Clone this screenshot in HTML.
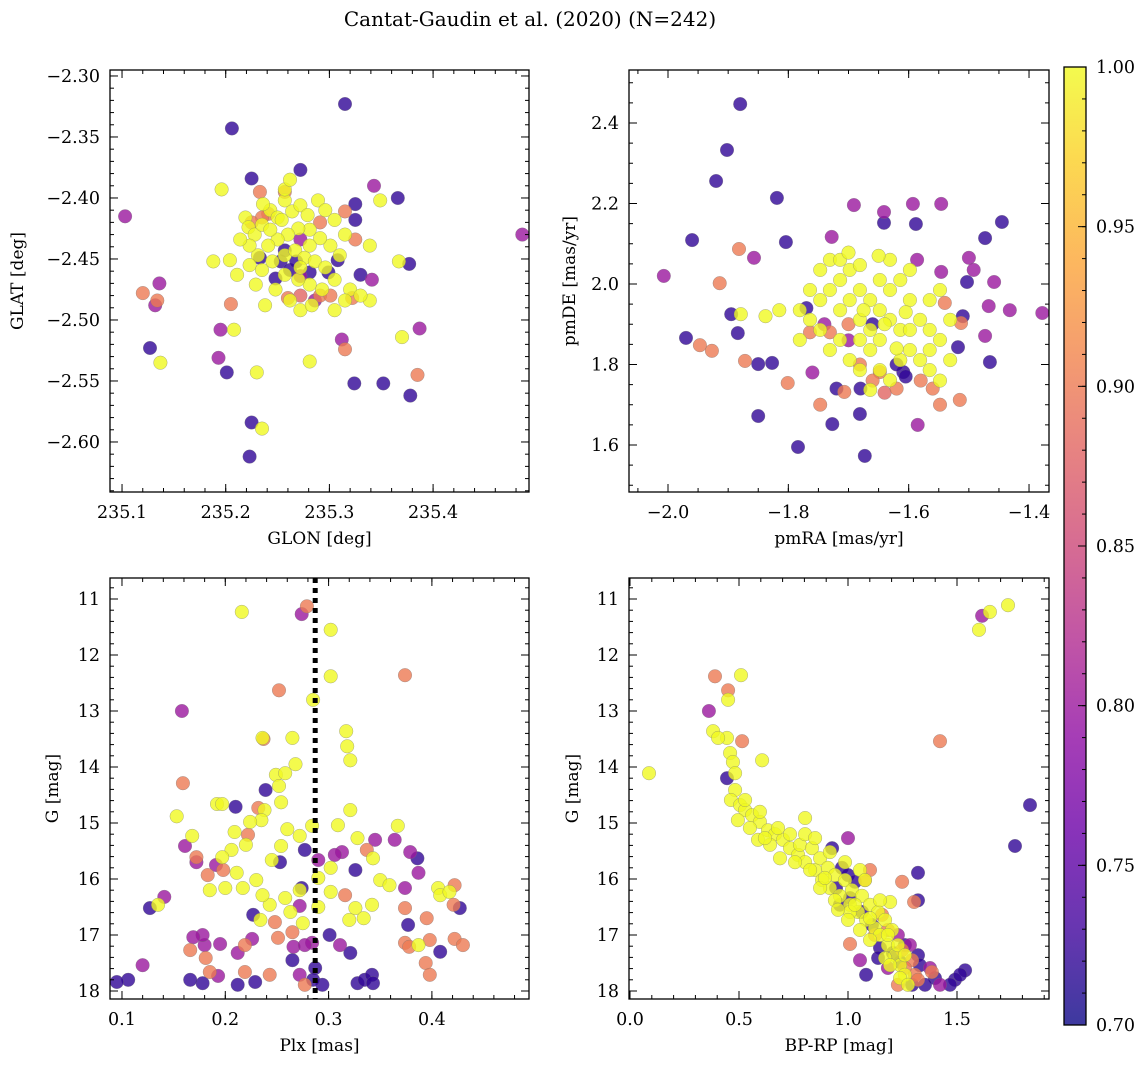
<!DOCTYPE html>
<html><head><meta charset="utf-8"><style>
html,body{margin:0;padding:0;background:#fff}
svg{display:block;font-family:"DejaVu Serif","Liberation Serif",serif}
</style></head><body>
<svg id="fig" width="1148" height="1067" viewBox="0 0 1148 1067" xmlns="http://www.w3.org/2000/svg">
<defs>
<linearGradient id="cbgrad" x1="0" y1="1" x2="0" y2="0">
<stop offset="0" stop-color="#0d0887"/><stop offset="0.1" stop-color="#41049d"/><stop offset="0.2" stop-color="#6a00a8"/><stop offset="0.3" stop-color="#8f0da4"/><stop offset="0.4" stop-color="#b12a90"/><stop offset="0.5" stop-color="#cc4778"/><stop offset="0.6" stop-color="#e16462"/><stop offset="0.7" stop-color="#f2844b"/><stop offset="0.8" stop-color="#fca636"/><stop offset="0.9" stop-color="#fcce25"/><stop offset="1" stop-color="#f0f921"/>
</linearGradient>
</defs>
<text x="530" y="26" font-size="20" text-anchor="middle">Cantat-Gaudin et al. (2020) (N=242)</text>
</svg>
<script>
// ---- Data (data units: [x, y, membership probability]) ----
const skyPoints = [
[235.315,-2.323,.72],[235.206,-2.343,.72],[235.272,-2.377,.72],[235.225,-2.384,.72],[235.343,-2.390,.8],[235.366,-2.400,.72],[235.103,-2.415,.8],[235.486,-2.430,.8],[235.120,-2.478,.9],[235.134,-2.484,.9],[235.132,-2.488,.8],[235.136,-2.470,.8],[235.127,-2.523,.72],[235.137,-2.535,1],[235.195,-2.508,.8],[235.193,-2.531,.8],[235.201,-2.543,.72],[235.225,-2.584,.72],[235.223,-2.612,.72],[235.235,-2.589,1],[235.205,-2.487,.9],[235.208,-2.508,1],[235.230,-2.543,1],[235.281,-2.534,1],[235.315,-2.524,.9],[235.312,-2.516,.8],[235.324,-2.552,.72],[235.352,-2.552,.72],[235.378,-2.562,.72],[235.385,-2.545,.9],[235.377,-2.454,.72],[235.387,-2.507,.8],[235.370,-2.514,1],[235.196,-2.393,1],[235.188,-2.452,1],[235.211,-2.463,1],[235.367,-2.452,1],[235.349,-2.402,1],[235.339,-2.439,1],[235.339,-2.484,1],[235.341,-2.467,.8],[235.330,-2.463,.72],[235.325,-2.405,.72],[235.325,-2.418,.72],
[235.219,-2.416,1],[235.222,-2.424,1],[235.228,-2.430,1],[235.235,-2.422,1],[235.243,-2.410,1],[235.250,-2.416,1],[235.257,-2.402,1],[235.264,-2.411,1],[235.272,-2.406,1],[235.279,-2.414,1],[235.289,-2.402,1],[235.296,-2.410,1],[235.305,-2.418,1],[235.315,-2.430,1],[235.310,-2.447,1],[235.301,-2.439,1],[235.291,-2.433,1],[235.281,-2.426,1],[235.270,-2.425,1],[235.260,-2.430,1],[235.250,-2.434,1],[235.241,-2.439,1],[235.231,-2.447,1],[235.223,-2.455,1],[235.235,-2.459,1],[235.245,-2.452,1],[235.257,-2.447,1],[235.267,-2.443,1],[235.276,-2.449,1],[235.286,-2.452,1],[235.296,-2.457,1],[235.305,-2.467,1],[235.293,-2.475,1],[235.281,-2.471,1],[235.270,-2.467,1],[235.257,-2.463,1],[235.248,-2.475,1],[235.262,-2.484,1],[235.272,-2.492,1],[235.283,-2.488,1],[235.238,-2.488,1],[235.229,-2.471,1],[235.257,-2.393,1],[235.262,-2.385,1],[235.236,-2.405,1],[235.320,-2.475,1],[235.330,-2.480,1],[235.315,-2.484,1],[235.305,-2.492,1],[235.223,-2.439,1],[235.214,-2.434,1],[235.204,-2.451,1],[235.272,-2.457,1],[235.281,-2.439,1],[235.254,-2.418,1],[235.243,-2.426,1],
[235.260,-2.482,.9],[235.272,-2.480,.88],[235.291,-2.480,.9],[235.301,-2.480,.9],[235.322,-2.482,.9],[235.241,-2.413,.9],[235.235,-2.416,.9],[235.257,-2.395,.9],[235.272,-2.464,.8],[235.286,-2.484,.8],[235.281,-2.461,.72],[235.248,-2.466,.72],[235.253,-2.452,.72],[235.262,-2.459,.72],[235.257,-2.443,.72],[235.268,-2.452,.72],[235.299,-2.461,.72],[235.308,-2.451,.72],[235.233,-2.449,.72],[235.272,-2.434,.8],[235.291,-2.420,.9],[235.325,-2.434,.9],[235.315,-2.411,.9],[235.233,-2.395,.9],[235.225,-2.420,.9]
];
const pmPoints = [
[-1.880,2.447,.72],[-1.902,2.333,.72],[-1.920,2.256,.72],[-1.960,2.109,.72],[-2.007,2.020,.8],[-1.819,2.214,.72],[-1.804,2.104,.72],[-1.857,2.065,.8],[-1.882,2.087,.9],[-1.914,2.002,.9],[-1.970,1.866,.72],[-1.947,1.848,.9],[-1.927,1.834,.9],[-1.872,1.809,.9],[-1.895,1.925,.72],[-1.884,1.878,.72],[-1.879,1.925,1],[-1.850,1.801,.72],[-1.827,1.804,.72],[-1.850,1.672,.72],[-1.784,1.595,.72],[-1.727,1.652,.72],[-1.673,1.573,.72],[-1.681,1.677,.72],[-1.691,2.196,.8],[-1.728,2.117,.8],[-1.641,2.152,.72],[-1.641,2.179,.8],[-1.593,2.199,.8],[-1.588,2.149,.72],[-1.546,2.199,.8],[-1.473,2.114,.72],[-1.445,2.154,.72],[-1.586,2.060,.8],[-1.546,2.030,.8],[-1.500,2.065,.8],[-1.492,2.035,.8],[-1.503,2.005,.72],[-1.458,2.005,.8],[-1.467,1.945,.8],[-1.510,1.920,.72],[-1.513,1.903,.9],[-1.540,1.953,.9],[-1.465,1.806,.72],[-1.432,1.935,.8],[-1.378,1.928,.8],[-1.473,1.871,.8],[-1.515,1.712,.9],[-1.585,1.650,.8],[-1.548,1.700,.9],[-1.518,1.843,.72],[-1.609,1.781,.72],[-1.648,1.781,.9],[-1.707,1.732,.9],[-1.747,1.700,.9],[-1.801,1.754,.9],
[-1.781,1.935,1],[-1.764,1.985,1],[-1.747,2.035,1],[-1.731,2.060,1],[-1.714,2.010,1],[-1.698,1.960,1],[-1.681,1.911,1],[-1.664,1.886,1],[-1.648,1.935,1],[-1.631,1.985,1],[-1.614,2.010,1],[-1.598,1.960,1],[-1.581,1.911,1],[-1.565,1.886,1],[-1.548,1.861,1],[-1.531,1.911,1],[-1.747,1.886,1],[-1.731,1.836,1],[-1.714,1.861,1],[-1.698,1.811,1],[-1.681,1.786,1],[-1.664,1.836,1],[-1.648,1.861,1],[-1.631,1.911,1],[-1.614,1.886,1],[-1.598,1.836,1],[-1.581,1.811,1],[-1.565,1.786,1],[-1.631,1.761,1],[-1.664,1.737,1],[-1.714,1.935,1],[-1.698,2.035,1],[-1.681,1.985,1],[-1.664,1.960,1],[-1.648,2.010,1],[-1.631,2.060,1],[-1.598,2.035,1],[-1.565,1.960,1],[-1.548,1.985,1],[-1.614,1.811,1],[-1.648,1.786,1],[-1.681,1.861,1],[-1.764,1.911,1],[-1.781,1.861,1],[-1.815,1.935,1],[-1.838,1.920,1],[-1.747,1.960,1],[-1.731,1.985,1],[-1.714,2.060,1],[-1.681,2.047,1],[-1.598,1.886,1],[-1.565,1.836,1],[-1.531,1.811,1],[-1.548,1.760,1],[-1.700,2.078,1],[-1.650,2.070,1],[-1.620,1.840,1],[-1.640,1.900,1],[-1.605,1.930,1],[-1.675,1.935,1],
[-1.764,1.880,.9],[-1.731,1.880,.9],[-1.700,1.900,.9],[-1.681,1.800,.9],[-1.660,1.760,.9],[-1.640,1.730,.88],[-1.620,1.740,.9],[-1.580,1.760,.9],[-1.560,1.740,.9],[-1.680,1.740,.72],[-1.720,1.740,.72],[-1.605,1.770,.72],[-1.740,1.900,.8],[-1.700,1.860,.8],[-1.660,1.900,.72],[-1.620,1.800,.72],[-1.770,1.940,.72],[-1.760,1.780,.8]
];
const plxPoints = [
[.216,11.23,1],[.279,11.13,.9],[.274,11.27,.8],[.302,11.55,1],[.302,12.38,1],[.252,12.63,.9],[.237,13.50,.9],[.236,13.48,1],[.265,13.48,1],[.317,13.36,1],[.318,13.63,1],[.158,13.00,.8],[.285,12.80,1],[.321,13.88,1],[.374,12.36,.9],[.159,14.29,.9],[.161,15.41,.8],[.192,14.66,1],[.197,14.66,1],[.210,14.71,.72],[.232,14.73,.9],[.249,14.14,1],[.258,14.11,1],[.268,13.95,1],[.252,14.34,1],[.254,14.63,1],[.239,14.41,.72],[.238,14.77,1],[.235,14.95,1],[.224,14.98,1],[.222,15.21,.9],[.220,15.39,1],[.209,15.16,1],[.206,15.48,1],[.197,15.61,1],[.198,15.84,.9],[.191,15.75,.8],[.183,15.93,.9],[.172,15.70,.8],[.185,16.20,1],[.200,16.16,1],[.217,16.16,1],[.230,16.02,1],[.245,15.66,1],[.254,15.41,1],[.260,15.11,1],[.272,15.23,1],[.284,15.05,1],[.309,15.04,1],[.321,14.77,1],[.328,15.27,1],[.337,15.48,.9],[.343,15.63,1],[.367,15.05,1],[.350,16.02,1],[.359,16.11,1],[.387,15.89,.8],[.374,16.16,.8],[.406,16.16,1],[.408,16.29,1],[.417,16.23,1],[.422,16.11,.9],[.313,15.52,.8],[.302,15.80,1],[.290,15.98,1],[.272,16.20,1],[.258,16.34,1],[.243,16.46,1],[.227,16.64,.72],[.234,16.73,1],[.263,16.59,1],[.265,16.95,.9],[.275,16.79,1],[.290,16.50,1],[.302,16.23,1],[.316,16.29,.9],[.326,16.52,1],[.342,16.46,1],[.334,16.70,1],[.320,16.73,1],[.301,17.00,.72],[.374,16.52,.9],[.395,16.70,.9],[.377,16.82,.72],[.427,16.52,.72],[.421,16.46,.9],[.422,17.07,.9],[.398,17.09,.9],[.374,17.14,.9],[.378,17.21,.9],[.387,17.18,1],[.408,17.30,.72],[.394,17.50,.9],[.430,17.18,.9],[.398,17.71,.9],[.321,17.32,.72],[.311,17.18,.8],[.284,17.14,.8],[.266,17.21,.8],[.251,17.05,.9],[.226,17.07,.8],[.219,17.18,.9],[.212,17.32,.8],[.195,17.16,.8],[.180,17.18,.8],[.178,17.00,.8],[.169,17.04,.8],[.166,17.27,.9],[.181,17.41,.9],[.185,17.66,.9],[.193,17.73,.8],[.178,17.86,.72],[.166,17.80,.72],[.120,17.54,.8],[.106,17.80,.72],[.095,17.84,.72],[.127,16.52,.72],[.135,16.46,1],[.141,16.32,.8],[.153,14.88,1],[.168,15.23,1],[.172,15.61,.9],[.211,15.89,1],[.236,16.29,1],[.248,16.77,.9],[.265,17.45,.72],[.272,17.71,.8],[.277,17.89,.9],[.294,17.89,.72],[.328,17.86,.72],[.335,17.80,.72],[.342,17.71,.72],[.343,17.86,.72],[.287,17.59,.72],[.285,17.80,.72],[.243,17.71,.9],[.229,17.84,.72],[.219,17.66,.9],[.212,17.89,.72],[.274,16.16,.72],[.290,15.66,.8],[.306,15.57,.8],[.277,15.48,.72],[.253,15.70,.72],[.326,15.84,.72],[.345,15.30,.8],[.364,15.30,.8],[.379,15.52,.8],[.386,15.63,.72],[.277,17.18,.8],[.272,16.48,.8]
];
const cmdPoints = [
[.087,14.11,1],[.390,12.38,.9],[.450,12.63,.9],[.450,12.80,1],[.509,12.36,1],[.362,13.00,.8],[.381,13.36,1],[.445,13.48,1],[.514,13.54,.9],[.404,13.48,1],[.459,13.75,1],[.472,13.91,1],[.482,14.11,1],[.445,14.20,.72],[.606,13.88,1],[.482,14.41,1],[.463,14.59,1],[.505,14.68,1],[.528,14.77,1],[.560,14.86,1],[.596,14.98,1],[.633,15.13,1],[.665,15.20,1],[.702,15.30,1],[.734,15.45,1],[.771,15.57,1],[.803,15.70,1],[.849,15.84,1],[.881,16.02,1],[.917,16.16,1],[.963,16.30,1],[1.009,16.46,1],[1.046,16.59,1],[1.083,16.73,1],[1.124,16.88,1],[1.147,17.00,1],[1.183,17.18,1],[1.216,17.36,1],[1.239,17.54,1],[1.261,17.71,1],
[.495,14.95,1],[.550,15.09,1],[.587,15.30,1],[.642,15.39,1],[.679,15.09,1],[.734,15.20,1],[.780,15.39,1],[.803,15.20,1],[.835,15.45,1],[.872,15.63,1],[.908,15.80,1],[.940,15.93,1],[.986,16.02,1],[1.018,16.20,1],[1.064,16.30,1],[1.101,16.46,1],[1.138,16.59,1],[1.170,16.73,1],[1.202,16.91,1],[1.055,15.84,1],[.986,15.70,1],[1.078,16.02,1],[1.193,16.41,1],[1.147,16.38,1],[.872,16.16,1],[.940,16.38,1],[1.009,16.59,1],[1.101,16.70,1],[1.183,17.00,1],[1.229,17.18,1],[1.261,17.36,1],[1.170,17.41,1],[1.101,17.09,1],[1.055,16.91,1],[1.000,16.73,1],[.803,14.91,1],[.849,15.27,1],[.917,15.52,1],[.596,14.80,1],[.528,14.59,1],[.619,15.27,1],[.688,15.63,1],[.757,15.70,1],[.826,15.84,1],[.894,15.98,1],[1.032,16.46,1],[.954,16.55,1],[1.193,17.54,1],[1.239,17.77,1],[1.275,17.89,1],
[.927,15.45,.72],[.972,15.80,.72],[1.000,15.93,.72],[1.032,16.05,.72],[.945,16.16,.72],[.963,16.46,.72],[1.009,16.34,.72],[1.064,16.59,.72],[1.110,16.82,.72],[1.147,17.23,.72],[1.206,17.32,.72],[1.261,17.18,.72],[1.321,17.36,.72],[1.321,16.38,.72],[1.321,15.89,.72],[1.284,17.18,.8],[1.229,17.00,.8],[1.124,17.00,.9],[1.183,16.91,.9],[1.248,17.27,.9],[1.294,17.45,.9],[1.239,17.48,.72],[1.330,17.54,.72],[1.261,17.59,.9],[1.307,17.71,.9],[1.376,17.59,.8],[1.399,17.77,.72],[1.491,17.80,.72],[1.537,17.63,.72],[1.514,17.71,.72],[1.468,17.89,.72],[1.422,17.89,.8],[1.353,17.89,.72],[1.321,17.80,.9],[1.385,17.66,.9],[1.294,17.89,.72],[1.229,17.89,.9],[1.183,17.59,.8],[1.138,17.41,.72],[1.083,17.71,.72],[1.055,17.45,.8],[1.009,17.16,.9],[1.000,15.27,.8],[1.156,16.64,.9],[1.101,15.84,.9],[1.078,16.02,.9],[1.835,14.68,.72],[1.766,15.41,.72],[1.422,13.54,.9],[1.734,11.11,1],[1.651,11.23,1],[1.615,11.30,.8],[1.601,11.55,1],[1.303,16.41,.9],[1.248,16.05,.9]
];
const skyXTicks = [235.1,235.2,235.3,235.4];
const skyYTicks = [-2.30,-2.35,-2.40,-2.45,-2.50,-2.55,-2.60];
const pmXTicks = [-2.0,-1.8,-1.6,-1.4];
const pmYTicks = [1.6,1.8,2.0,2.2,2.4];
const plxXTicks = [0.1,0.2,0.3,0.4];
const magTicks = [11,12,13,14,15,16,17,18];
const cmdXTicks = [0.0,0.5,1.0,1.5];
const cbTicks = [0.70,0.75,0.80,0.85,0.90,0.95,1.00];
const plxMedian = 0.287;

const NS = "http://www.w3.org/2000/svg";
const svg = document.getElementById('fig');
function el(tag, attrs, parent){const e=document.createElementNS(NS,tag);for(const k in attrs)e.setAttribute(k,attrs[k]);(parent||svg).appendChild(e);return e;}
const plasma=[[13,8,135],[65,4,157],[106,0,168],[143,13,164],[177,42,144],[204,71,120],[225,100,98],[242,132,75],[252,166,54],[252,206,37],[240,249,33]];
function color(p){let t=(p-0.7)/0.3;t=Math.max(0,Math.min(1,t));const f=t*10,i=Math.min(9,Math.floor(f)),r=f-i;const a=plasma[i],b=plasma[i+1];return `rgb(${Math.round(a[0]+(b[0]-a[0])*r)},${Math.round(a[1]+(b[1]-a[1])*r)},${Math.round(a[2]+(b[2]-a[2])*r)})`;}
function fmt(v,d){return (v<0?"\u2212":"")+Math.abs(v).toFixed(d);}

function panel(cfg){
  const g=el('g',{});
  
  
  const {x0,x1,y0,y1,xmin,xmax,ymin,ymax}=cfg;
  const sx=v=>x0+(v-xmin)/(xmax-xmin)*(x1-x0);
  const sy=v=>cfg.invert? y0+(v-ymin)/(ymax-ymin)*(y1-y0) : y1-(v-ymin)/(ymax-ymin)*(y1-y0);
  const pts=cfg.data.slice().sort((a,b)=>a[2]-b[2]);
  pts.forEach(d=>{
    const c=el('circle',{cx:sx(d[0]).toFixed(1),cy:sy(d[1]).toFixed(1),r:6.8,fill:color(d[2]),'fill-opacity':0.8,stroke:'#777','stroke-width':0.5,'stroke-opacity':0.6},g);
    
    
  });
  const tg=el('g',{stroke:'#000','stroke-width':1},g);
  const xs=(cfg.xticks[1]-cfg.xticks[0])/cfg.xminor, ys=(cfg.yticks[1]-cfg.yticks[0])/cfg.yminor;
  for(let v=Math.ceil(xmin/xs-1e-6)*xs; v<=xmax; v+=xs){const X=sx(v);el('line',{x1:X,x2:X,y1:y1,y2:y1-4},tg);el('line',{x1:X,x2:X,y1:y0,y2:y0+4},tg);}
  const yl=Math.min(ymin,ymax), yh=Math.max(ymin,ymax);
  for(let v=Math.ceil(yl/Math.abs(ys)-1e-6)*Math.abs(ys); v<=yh; v+=Math.abs(ys)){const Y=sy(v);el('line',{x1:x0,x2:x0+4,y1:Y,y2:Y},tg);el('line',{x1:x1,x2:x1-4,y1:Y,y2:Y},tg);}
  cfg.xticks.forEach(v=>{const X=sx(v);el('line',{x1:X,x2:X,y1:y1,y2:y1-8},tg);el('line',{x1:X,x2:X,y1:y0,y2:y0+8},tg);
    const t=el('text',{x:X,y:y1+26,'font-size':17.5,'text-anchor':'middle'},g);t.textContent=fmt(v,cfg.xdec);
    
    });
  cfg.yticks.forEach(v=>{const Y=sy(v);el('line',{x1:x0,x2:x0+8,y1:Y,y2:Y},tg);el('line',{x1:x1,x2:x1-8,y1:Y,y2:Y},tg);
    const t=el('text',{x:x0-10,y:Y+6,'font-size':17.5,'text-anchor':'end'},g);t.textContent=fmt(v,cfg.ydec);
    
    });
  const fr=el('rect',{x:x0,y:y0,width:x1-x0,height:y1-y0,fill:'none',stroke:'#000','stroke-width':1.3},g);
  
  
  if(cfg.vline!==undefined){
    const X=sx(cfg.vline);
    const l=el('path',{d:`M${X.toFixed(1)},${y0} L${X.toFixed(1)},${y1}`,fill:'none',stroke:'#000','stroke-width':5,'stroke-dasharray':'5 5'},g);
    
    
  }
  const xl=el('text',{x:(x0+x1)/2,y:y1+52,'font-size':17,'text-anchor':'middle'},g);xl.textContent=cfg.xlabel;
  
  
  const yx=cfg.ylx, yy=(y0+y1)/2;
  const ylab=el('text',{x:yx,y:yy,'font-size':17,'text-anchor':'middle',transform:`rotate(-90 ${yx} ${yy})`},g);ylab.textContent=cfg.ylabel;
  
  
}

panel({name:'sky-panel',data:skyPoints,x0:110,x1:529,y0:70,y1:492,xmin:235.0884,xmax:235.4925,ymin:-2.641,ymax:-2.2951,xticks:skyXTicks,yticks:skyYTicks,xminor:5,yminor:5,xdec:1,ydec:2,xlabel:'GLON [deg]',ylabel:'GLAT [deg]',ylx:23});
panel({name:'proper-motion-panel',data:pmPoints,x0:629,x1:1049,y0:70,y1:492,xmin:-2.0648,xmax:-1.3668,ymin:1.4832,ymax:2.5317,xticks:pmXTicks,yticks:pmYTicks,xminor:4,yminor:4,xdec:1,ydec:1,xlabel:'pmRA [mas/yr]',ylabel:'pmDE [mas/yr]',ylx:575});
panel({name:'parallax-panel',data:plxPoints,x0:110,x1:529,y0:578,y1:999,xmin:0.0884,xmax:0.494,ymin:10.625,ymax:18.143,invert:true,xticks:plxXTicks,yticks:magTicks,xminor:5,yminor:5,xdec:1,ydec:0,xlabel:'Plx [mas]',ylabel:'G [mag]',ylx:58,vline:plxMedian});
panel({name:'cmd-panel',data:cmdPoints,x0:629,x1:1049,y0:578,y1:999,xmin:-0.0046,xmax:1.922,ymin:10.625,ymax:18.143,invert:true,xticks:cmdXTicks,yticks:magTicks,xminor:5,yminor:5,xdec:1,ydec:0,xlabel:'BP-RP [mag]',ylabel:'G [mag]',ylx:578});

(function(){
  const cx0=1064,cx1=1086,cy0=67,cy1=1025;
  const g=el('g',{});
  
  
  el('rect',{x:cx0,y:cy0,width:cx1-cx0,height:cy1-cy0,fill:'url(#cbgrad)','fill-opacity':0.8},g);
  el('rect',{x:cx0,y:cy0,width:cx1-cx0,height:cy1-cy0,fill:'none',stroke:'#000','stroke-width':1.3},g);
  const sy=v=>cy1-(v-0.7)/0.3*(cy1-cy0);
  for(let v=0.70;v<=1.0001;v+=0.01){el('line',{x1:cx1,x2:cx1-4,y1:sy(v),y2:sy(v),stroke:'#000'},g);}
  cbTicks.forEach(v=>{const Y=sy(v);el('line',{x1:cx1,x2:cx1-8,y1:Y,y2:Y,stroke:'#000'},g);
    const t=el('text',{x:cx1+10,y:Y+6,'font-size':17.5},g);t.textContent=v.toFixed(2);
    
    });
})();
</script>
</body></html>
